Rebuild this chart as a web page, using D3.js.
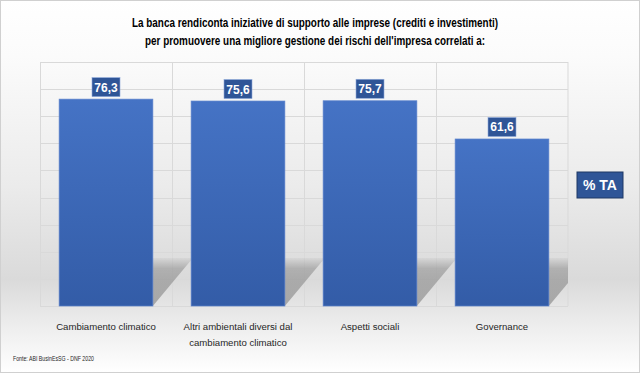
<!doctype html>
<html>
<head>
<meta charset="utf-8">
<style type="text/css">
  body { margin: 0; }
  text { font-family: "Liberation Sans", Arial, sans-serif; }
  .title { font-size: 12px; font-weight: bold; fill: #000; text-anchor: middle; }
  .cat { font-size: 9.6px; fill: #262626; text-anchor: middle; }
  .val { font-size: 12px; font-weight: bold; fill: #fff; text-anchor: middle; }
  .src { font-size: 7.5px; fill: #262626; }
</style>
</head>
<body>
<svg width="640" height="373"></svg>
<script src="https://cdnjs.cloudflare.com/ajax/libs/d3/7.8.5/d3.min.js"></script>
<script>
var categories = ["Cambiamento climatico", "Altri ambientali diversi dal cambiamento climatico", "Aspetti sociali", "Governance"];
var catLines = [["Cambiamento climatico"], ["Altri ambientali diversi dal", "cambiamento climatico"], ["Aspetti sociali"], ["Governance"]];
var values = [76.3, 75.6, 75.7, 61.6];
var titleLines = ["La banca rendiconta iniziative di supporto alle imprese (crediti e investimenti)",
                  "per promuovere una migliore gestione dei rischi dell'impresa correlati a:"];
var source = "Fonte: ABI BusinEsSG - DNF 2020";
var unitLabel = "% TA";
var gridTicks = d3.range(0, 91, 10);

var svg = d3.select("svg");
var W = 640, H = 373;
var plot = {left: 40, right: 568, top: 62, bottom: 306};

var defs = svg.append("defs");
var bg = defs.append("linearGradient").attr("id", "bg").attr("x1", 0).attr("y1", 0).attr("x2", 0).attr("y2", 1);
[[0, "#ffffff"], [0.15, "#fbfbfb"], [0.5, "#ebebeb"], [0.75, "#dadada"], [0.88, "#eeeeee"], [1, "#ffffff"]]
  .forEach(function(s){ bg.append("stop").attr("offset", s[0]).attr("stop-color", s[1]); });

var barGrad = defs.append("linearGradient").attr("id", "barg").attr("x1", 0).attr("y1", 0).attr("x2", 0).attr("y2", 1);
barGrad.append("stop").attr("offset", 0).attr("stop-color", "#4573c5");
barGrad.append("stop").attr("offset", 1).attr("stop-color", "#335ca7");

var shGrad = defs.append("linearGradient").attr("id", "shg").attr("gradientUnits", "userSpaceOnUse")
  .attr("x1", 0).attr("y1", plot.bottom - 50).attr("x2", 0).attr("y2", plot.bottom);
shGrad.append("stop").attr("offset", 0).attr("stop-color", "#000").attr("stop-opacity", 0);
shGrad.append("stop").attr("offset", 0.25).attr("stop-color", "#000").attr("stop-opacity", 0.2);
shGrad.append("stop").attr("offset", 1).attr("stop-color", "#000").attr("stop-opacity", 0.27);

defs.append("clipPath").attr("id", "plotclip").append("rect")
  .attr("x", plot.left).attr("y", plot.top)
  .attr("width", plot.right - plot.left).attr("height", plot.bottom - plot.top);

svg.append("rect").attr("x", 0.5).attr("y", 0.5).attr("width", W - 1).attr("height", H - 1)
  .attr("fill", "url(#bg)").attr("stroke", "#d0d0d0");

// title
svg.selectAll("text.title").data(titleLines).enter().append("text")
  .attr("class", "title")
  .attr("x", 315)
  .attr("y", function(d, i){ return 27 + i * 18; })
  .attr("textLength", function(d, i){ return i === 0 ? 366 : 340; })
  .attr("lengthAdjust", "spacingAndGlyphs")
  .text(function(d){ return d; });

var x = d3.scaleBand().domain(categories).range([plot.left, plot.right]).paddingInner(0.29).paddingOuter(0.145);
var xCell = d3.scaleBand().domain(categories).range([plot.left, plot.right]);
var y = d3.scaleLinear().domain([0, 90]).range([plot.bottom, plot.top]);

// grid
var grid = svg.append("g");
grid.selectAll("line.h").data(gridTicks).enter().append("line")
  .attr("x1", plot.left).attr("x2", plot.right)
  .attr("y1", function(d){ return Math.round(y(d)) + 0.5; })
  .attr("y2", function(d){ return Math.round(y(d)) + 0.5; })
  .attr("stroke", "#d9d9d9");
grid.selectAll("line.v").data(categories.concat(["_end"])).enter().append("line")
  .attr("x1", function(d){ return d === "_end" ? plot.right : Math.round(xCell(d)) + 0.5; })
  .attr("x2", function(d){ return d === "_end" ? plot.right : Math.round(xCell(d)) + 0.5; })
  .attr("y1", plot.top).attr("y2", plot.bottom)
  .attr("stroke", "#d9d9d9");

// shadows
var dx = 40, sh = 48;
svg.append("g").attr("clip-path", "url(#plotclip)")
  .selectAll("polygon").data(categories).enter().append("polygon")
  .attr("points", function(d){
    var x0 = x(d), x1 = x(d) + x.bandwidth(), b = y(0);
    return [[x0, b], [x1, b], [x1 + dx, b - sh], [x0 + dx, b - sh]].join(" ");
  })
  .attr("fill", "url(#shg)");

// bars
svg.append("g").selectAll("rect").data(values).enter().append("rect")
  .attr("x", function(d, i){ return x(categories[i]); })
  .attr("y", function(d){ return y(d); })
  .attr("width", x.bandwidth())
  .attr("height", function(d){ return y(0) - y(d); })
  .attr("fill", "url(#barg)")
  .attr("stroke", "#5b82cc").attr("stroke-width", 0.7);

// value labels
var fmt = d3.formatLocale({decimal: ",", thousands: ".", grouping: [3], currency: ["", "€"]}).format(".1f");
var vl = svg.append("g").selectAll("g").data(values).enter().append("g")
  .attr("transform", function(d, i){ return "translate(" + (x(categories[i]) + x.bandwidth() / 2) + "," + (y(d) - 12) + ")"; });
vl.append("rect").attr("x", -14).attr("y", -9.5).attr("width", 28).attr("height", 19)
  .attr("fill", "#2f5597").attr("stroke", "#8ea9db").attr("stroke-width", 0.6);
vl.append("text").attr("class", "val").attr("y", 4.5).text(function(d){ return fmt(d); });

// category labels
var cl = svg.append("g").selectAll("text").data(categories).enter().append("text")
  .attr("class", "cat")
  .attr("x", function(d){ return xCell(d) + xCell.bandwidth() / 2; })
  .attr("y", 330);
cl.selectAll("tspan").data(function(d, i){ return catLines[i]; }).enter().append("tspan")
  .attr("x", function(){ var p = d3.select(this.parentNode).datum(); return xCell(p) + xCell.bandwidth() / 2; })
  .attr("dy", function(d, i){ return i === 0 ? 0 : 16; })
  .text(function(d){ return d; });

// unit box
var ub = svg.append("g").attr("transform", "translate(600,185)");
ub.append("rect").attr("x", -23).attr("y", -13).attr("width", 46).attr("height", 26)
  .attr("fill", "#2f5597").attr("stroke", "#1f3864").attr("stroke-width", 1);
ub.append("text").attr("text-anchor", "middle").attr("y", 5)
  .style("font-size", "14px").style("font-weight", "bold").attr("fill", "#fff").text(unitLabel);

// source
svg.append("text").attr("class", "src").attr("x", 13).attr("y", 361)
  .attr("textLength", 81).attr("lengthAdjust", "spacingAndGlyphs").text(source);
</script>
</body>
</html>
